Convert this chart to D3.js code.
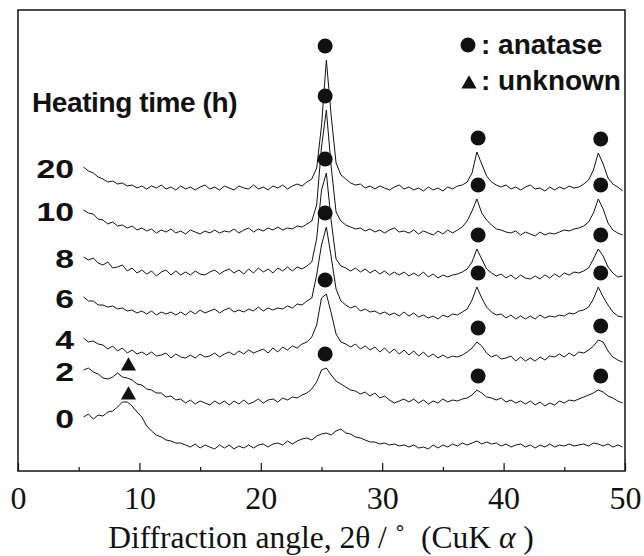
<!DOCTYPE html>
<html>
<head>
<meta charset="utf-8">
<script src="https://cdnjs.cloudflare.com/ajax/libs/d3/7.8.5/d3.min.js"></script>
<style>
html,body{margin:0;padding:0;background:#fff;}
svg{display:block;}
</style>
</head>
<body>
<svg id="chart" width="644" height="556"></svg>
<script>
// ---------- DATA ----------
const angles = [5.4,5.8,6.2,6.6,7.0,7.4,7.8,8.2,8.6,9.0,
  9.4,9.8,10.2,10.6,11.0,11.4,11.8,12.2,12.6,13.0,
  13.4,13.8,14.2,14.6,15.0,15.4,15.8,16.2,16.6,17.0,
  17.4,17.8,18.2,18.6,19.0,19.4,19.8,20.2,20.6,21.0,
  21.4,21.8,22.2,22.6,23.0,23.4,23.8,24.2,24.6,25.0,
  25.4,25.8,26.2,26.6,27.0,27.4,27.8,28.2,28.6,29.0,
  29.4,29.8,30.2,30.6,31.0,31.4,31.8,32.2,32.6,33.0,
  33.4,33.8,34.2,34.6,35.0,35.4,35.8,36.2,36.6,37.0,
  37.4,37.8,38.2,38.6,39.0,39.4,39.8,40.2,40.6,41.0,
  41.4,41.8,42.2,42.6,43.0,43.4,43.8,44.2,44.6,45.0,
  45.4,45.8,46.2,46.6,47.0,47.4,47.8,48.2,48.6,49.0,
  49.4,49.8];

const hours = ["0","2","4","6","8","10","20"];
const offsets = [25, 69, 116, 158, 198, 240, 283];

const int0h = [29,32,27,31,30,34,35,39,44,44,
  40,34,29,20,15,11,9,6,5,3,
  3,1,-1,2,-2,1,-1,-3,1,-2,
  1,-3,0,-2,1,-2,1,2,-1,2,
  3,1,5,2,5,7,8,6,10,12,
  13,11,15,17,13,12,9,8,6,4,
  4,2,3,1,2,0,1,-1,1,-2,
  -1,-3,1,-2,1,-1,2,0,3,1,
  3,5,2,4,2,3,0,2,-1,1,
  2,-1,1,-2,1,-1,2,-1,1,0,
  2,0,1,2,0,3,2,0,2,-1,
  1,-1];
const int2h = [32,34,30,28,24,23,25,29,25,24,
  22,18,17,13,12,9,9,5,6,2,
  3,-1,2,-2,1,-1,-3,1,-2,1,
  -3,1,-2,2,-2,0,3,-1,2,3,
  0,4,2,5,4,7,9,13,20,32,
  34,27,21,18,15,12,11,8,10,6,
  9,4,6,2,-1,1,3,0,3,-1,
  2,-2,1,-1,3,0,2,1,3,4,
  7,12,9,5,4,2,4,0,2,-1,
  1,-2,1,-3,0,-4,-1,-3,1,-1,
  2,1,3,5,7,9,12,10,6,4,
  1,-1];
const int4h = [17,13,14,11,10,6,9,4,7,2,
  5,1,3,0,3,-1,0,2,-3,1,
  -2,-3,0,-3,1,-2,-1,2,-2,1,
  3,0,4,1,5,2,4,6,2,7,
  3,8,5,9,7,11,13,18,30,57,
  61,42,21,13,11,8,11,6,9,5,
  8,3,7,2,6,1,5,0,4,-1,
  3,-2,1,-3,0,-3,-1,-2,0,3,
  7,13,9,2,-2,0,-4,-3,-1,-6,
  -2,-6,-3,-6,-2,-5,-1,-2,1,-2,
  2,-1,3,2,5,9,15,13,4,-2,
  -5,-7];
const int6h = [16,12,12,8,8,6,7,4,5,2,
  3,0,2,-1,2,-2,1,-1,1,-2,
  1,-2,2,-1,3,0,2,4,0,3,
  5,1,3,1,4,2,6,2,5,3,
  5,4,7,5,9,8,12,15,38,68,
  86,56,24,12,8,5,7,2,4,1,
  2,-1,1,-2,0,-3,1,-3,0,-4,
  -2,-5,-3,-6,-2,-4,-1,-2,1,4,
  13,26,15,6,1,-2,-1,-5,-2,-6,
  -3,-6,-3,-6,-2,-5,-3,-4,-2,-3,
  0,-1,2,3,6,14,26,16,8,1,
  -3,-4];
const int8h = [16,13,15,10,8,11,5,6,8,2,
  5,0,3,-1,2,-3,1,3,-2,2,
  -2,1,-2,2,-1,-2,1,3,-1,2,
  4,0,3,-1,4,0,5,1,4,0,
  5,2,6,2,6,4,7,11,34,83,
  100,52,14,7,5,2,5,1,4,0,
  3,-1,2,-2,1,-2,1,-3,0,-3,
  1,-4,-1,-5,-2,-4,-2,-1,1,4,
  11,24,14,4,0,-3,-1,-5,-2,-6,
  -2,-5,-6,-3,-6,-2,-5,-1,-4,0,
  -2,1,0,2,5,14,24,17,6,0,
  -4,-3];
const int10h = [21,18,17,12,11,7,9,5,6,3,
  5,1,3,0,2,-2,1,-1,2,-2,
  0,-3,1,-1,-3,0,-2,1,-2,0,
  -1,2,-2,1,3,-1,2,0,3,1,
  4,1,3,2,5,4,7,10,26,84,
  121,64,19,10,6,4,2,3,0,2,
  -1,1,-2,1,3,-1,0,-2,1,-3,
  0,-2,-4,0,-3,1,-2,1,4,10,
  20,32,18,11,6,2,1,-1,-2,0,
  -4,-1,-3,-5,-1,-4,-2,-3,-1,1,
  0,2,3,5,9,18,32,22,8,1,
  -2,-4];
const int20h = [21,17,15,11,9,6,7,4,5,2,
  3,0,2,-1,2,0,3,-1,1,-2,
  2,-1,1,-2,1,3,-1,1,-2,2,
  0,-2,2,0,-1,3,-1,1,-2,2,
  0,3,-1,2,4,2,6,9,20,62,
  128,72,25,13,9,5,3,4,0,2,
  -1,2,0,-2,1,3,-1,1,-2,0,
  -3,1,-2,0,-3,1,-1,2,3,6,
  15,36,24,12,6,3,1,3,-1,1,
  -2,1,3,-1,0,-3,1,-2,1,-1,
  2,0,1,4,8,18,35,24,10,4,
  1,-3];

const anatasePeaks = [25.3, 37.9, 48.0];
const anataseSeries = ["2","4","6","8","10","20"];
const unknownPeaks = [9.1];
const unknownSeries = ["0","2"];

const xTicks = [0,10,20,30,40,50];
const xMinorTicks = [5,15,25,35,45];
const legendLabels = [": anatase", ": unknown"];
const groupTitle = "Heating time (h)";

// ---------- BUILD ----------
const series = [int0h, int2h, int4h, int6h, int8h, int10h, int20h].map((v,i)=>({
  hour: hours[i], offset: offsets[i], values: v
}));

const svg = d3.select("#chart");
const L=18, R=625, T=10, B=471;
const x = d3.scaleLinear().domain([0,50]).range([L,R]);
const y = d3.scaleLinear().domain([0,461]).range([B,T]);

const sans = "'Liberation Sans', Arial, Helvetica, sans-serif";
const serif = "'Liberation Serif', 'Times New Roman', Times, serif";

// traces
const line = d3.line()
  .x((d,i)=>x(angles[i]))
  .y(d=>d);
const plot = svg.append("g");
series.forEach(s=>{
  plot.append("path")
    .attr("d", line(s.values.map(v=>y(v+s.offset))))
    .attr("fill","none")
    .attr("stroke","#111")
    .attr("stroke-width",1)
    .attr("stroke-linejoin","round");
});

function peakTop(s, p, win){
  let m = -Infinity;
  angles.forEach((a,i)=>{ if (Math.abs(a-p) <= win && s.values[i] > m) m = s.values[i]; });
  return y(m + s.offset);
}

// anatase circles
series.filter(s=>anataseSeries.includes(s.hour)).forEach(s=>{
  anatasePeaks.forEach(p=>{
    plot.append("circle")
      .attr("cx", x(p))
      .attr("cy", peakTop(s,p,0.5) - 14)
      .attr("r", 7.5)
      .attr("fill","#111");
  });
});
// unknown triangles
const tri = d3.symbol().type(d3.symbolTriangle).size(100);
series.filter(s=>unknownSeries.includes(s.hour)).forEach(s=>{
  unknownPeaks.forEach(p=>{
    plot.append("path")
      .attr("d", tri())
      .attr("transform", `translate(${x(p)},${peakTop(s,p,1.0) - 7})`)
      .attr("fill","#111");
  });
});

// hour labels
series.forEach(s=>{
  svg.append("text")
    .attr("transform", `translate(74,${y(s.values[0]+s.offset)+2}) scale(1.35,1)`)
    .attr("text-anchor","end")
    .attr("dominant-baseline","central")
    .style("font-family", sans)
    .style("font-weight","bold")
    .style("font-size","25px")
    .attr("fill","#111")
    .text(s.hour);
});

// group title
svg.append("text")
  .attr("x", 32).attr("y", 112)
  .style("font-family", sans).style("font-weight","bold")
  .style("font-size","28px").style("letter-spacing","-0.4px")
  .attr("fill","#111")
  .text(groupTitle);

// legend
const lg = svg.append("g");
lg.append("circle").attr("cx",468).attr("cy",45).attr("r",7.5).attr("fill","#111");
lg.append("path").attr("d", tri()).attr("transform","translate(469,84)").attr("fill","#111");
legendLabels.forEach((t,i)=>{
  lg.append("text")
    .attr("x", 481).attr("y", i===0 ? 54 : 90)
    .style("font-family", sans).style("font-weight","bold")
    .style("font-size","28px")
    .attr("fill","#111")
    .text(t);
});

// frame
svg.append("rect")
  .attr("x",L).attr("y",T).attr("width",R-L).attr("height",B-T)
  .attr("fill","none").attr("stroke","#111").attr("stroke-width",1.5);

// x axis (ticks inward)
const ax = svg.append("g").attr("transform",`translate(0,${B})`)
  .call(d3.axisBottom(x).tickValues(xTicks).tickSize(-8).tickPadding(15).tickFormat(d3.format("d")));
ax.select(".domain").remove();
ax.selectAll(".tick line").attr("stroke","#111").attr("stroke-width",1.2);
ax.selectAll(".tick text")
  .attr("fill","#111")
  .style("font-family", serif)
  .style("font-size","32px");
const axm = svg.append("g").attr("transform",`translate(0,${B})`)
  .call(d3.axisBottom(x).tickValues(xMinorTicks).tickSize(-4).tickFormat(""));
axm.select(".domain").remove();
axm.selectAll(".tick line").attr("stroke","#111").attr("stroke-width",1.2);

// x axis title
const title = svg.append("text")
  .attr("x", 321).attr("y", 548)
  .attr("text-anchor","middle")
  .style("font-family", serif)
  .style("font-size","31.5px")
  .style("white-space","pre")
  .attr("fill","#111");
title.append("tspan").text("Diffraction angle, 2θ / ˚  (CuK ");
title.append("tspan").style("font-style","italic").text("α");
title.append("tspan").text(" )");
</script>
</body>
</html>
